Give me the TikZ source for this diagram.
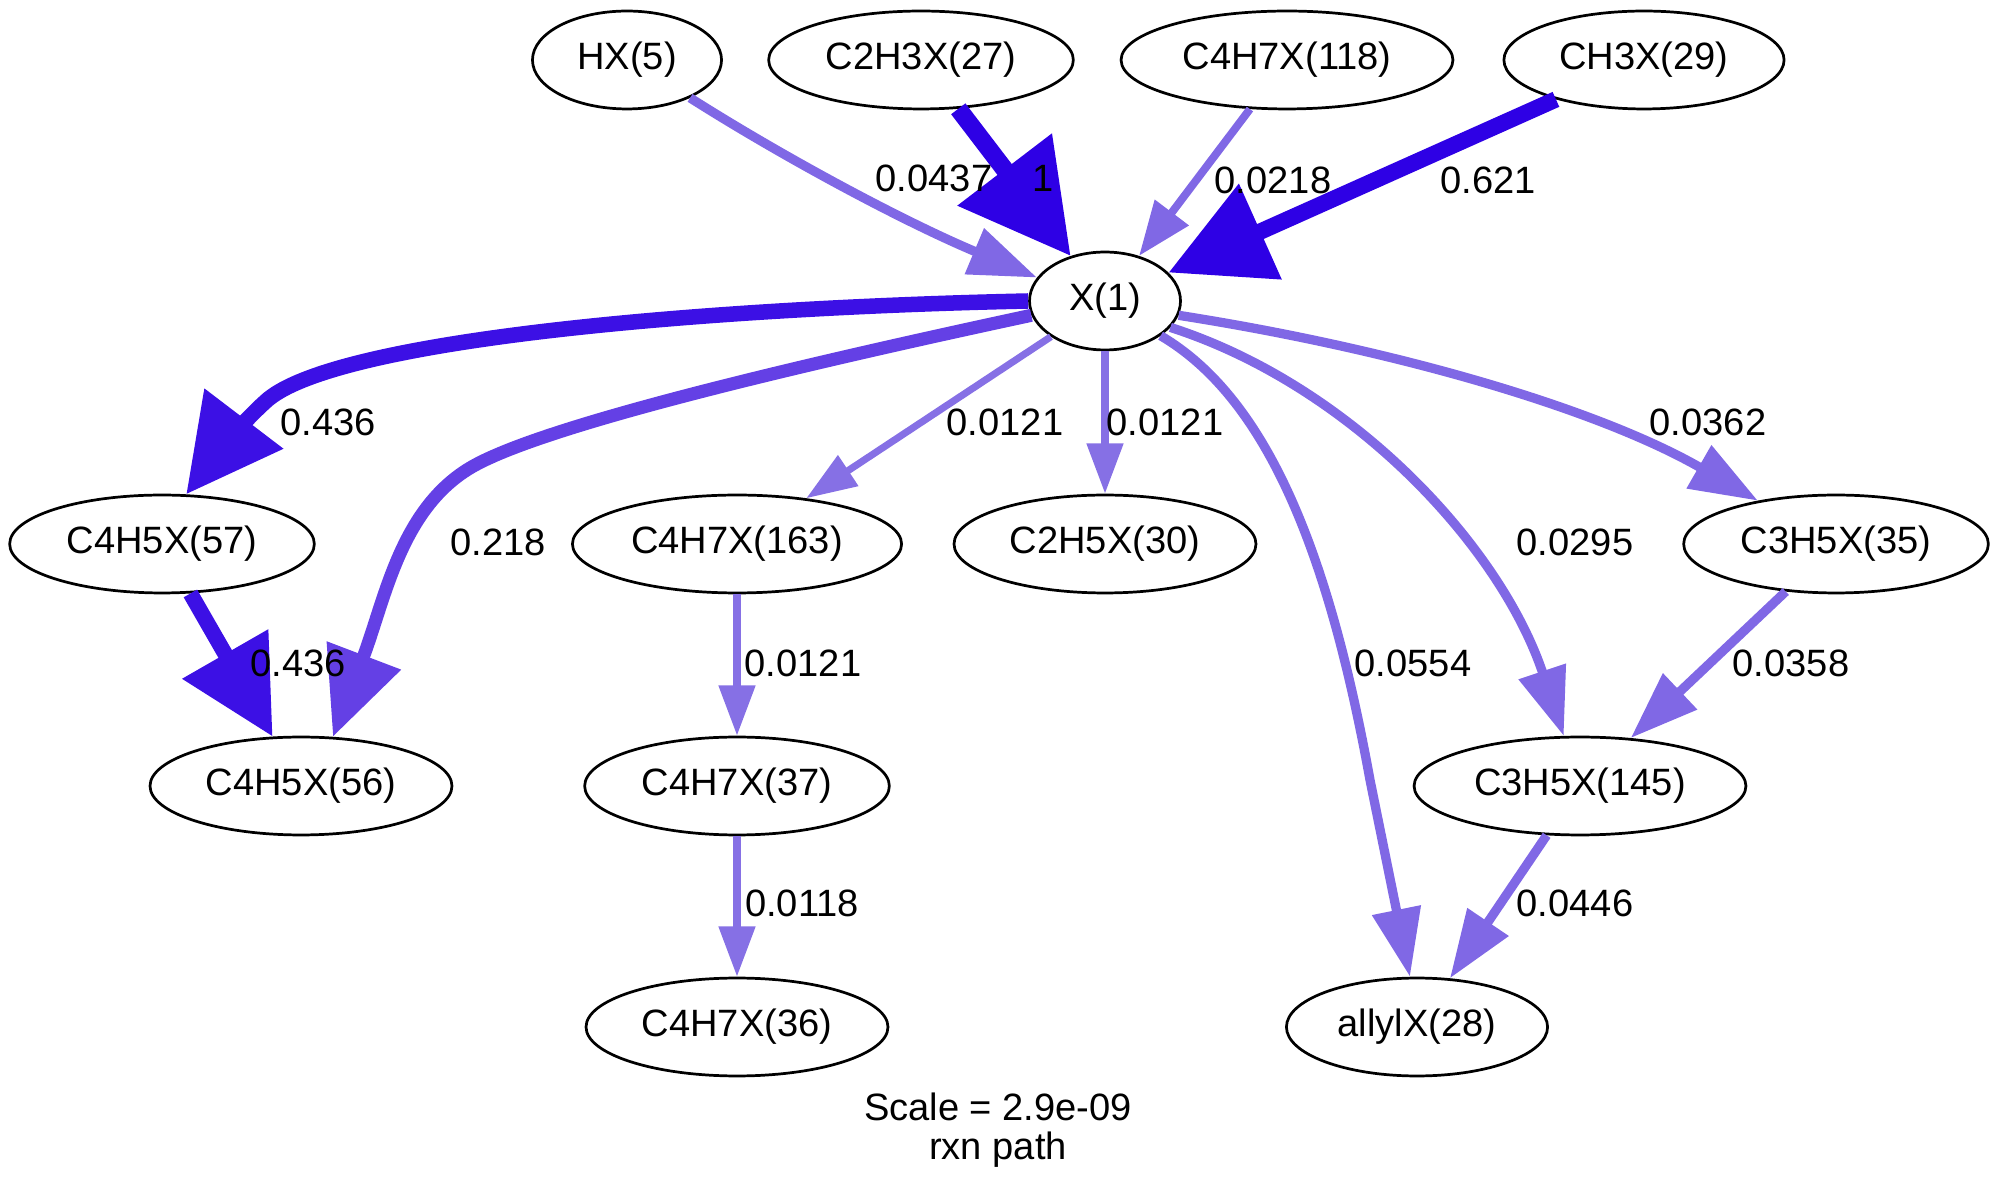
\documentclass[tikz,border=0pt]{standalone}
\usepackage{xcolor}
\usepackage{fontspec}
\setmainfont{Liberation Sans}
\usetikzlibrary{shapes.geometric,arrows.meta}

\definecolor{fluxA}{RGB}{46,0,229}
\definecolor{fluxB}{RGB}{60,16,229}
\definecolor{fluxC}{RGB}{100,64,229}
\definecolor{fluxD}{RGB}{128,104,229}
\definecolor{fluxE}{RGB}{134,112,229}

\begin{document}
\begin{tikzpicture}[x=36.76pt,y=-36.76pt,
  every node/.style={font=\fontsize{14}{16}\selectfont},
  sp/.style={ellipse,draw,line width=1pt,minimum height=36pt,inner sep=0pt},
  fluxtop/.style={draw=fluxA,line width=6.6pt,-{Triangle[length=40pt,width=42pt,fill=fluxA]}},
  fluxbig/.style={draw=fluxA,line width=6pt,-{Triangle[length=37pt,width=37pt,fill=fluxA]}},
  fluxhigh/.style={draw=fluxB,line width=5.7pt,-{Triangle[length=35pt,width=35pt,fill=fluxB]}},
  fluxfair/.style={draw=fluxC,line width=4.8pt,-{Triangle[length=32pt,width=28pt,fill=fluxC]}},
  fluxmid/.style={draw=fluxD,line width=3.4pt,-{Triangle[length=25pt,width=17.5pt,fill=fluxD]}},
  fluxsmall/.style={draw=fluxD,line width=2.9pt,-{Triangle[length=20pt,width=15pt,fill=fluxD]}},
  fluxlow/.style={draw=fluxE,line width=2.6pt,-{Triangle[length=18.5pt,width=13pt,fill=fluxE]}}]
  \useasboundingbox (0,0) rectangle (19.98,11.94);

  % species
  \node[sp,minimum width=69.5pt] (HX5) at (6.27,0.60) {HX(5)};
  \node[sp,minimum width=112pt] (C2H3X27) at (9.21,0.60) {C2H3X(27)};
  \node[sp,minimum width=122pt] (C4H7X118) at (12.87,0.60) {C4H7X(118)};
  \node[sp,minimum width=103pt] (CH3X29) at (16.44,0.60) {CH3X(29)};
  \node[sp,minimum width=55.5pt] (X1) at (11.05,3.01) {X(1)};
  \node[sp,minimum width=112pt] (C4H5X57) at (1.62,5.44) {C4H5X(57)};
  \node[sp,minimum width=121pt] (C4H7X163) at (7.37,5.44) {C4H7X(163)};
  \node[sp,minimum width=111pt] (C2H5X30) at (11.05,5.44) {C2H5X(30)};
  \node[sp,minimum width=112pt] (C3H5X35) at (18.36,5.44) {C3H5X(35)};
  \node[sp,minimum width=111pt] (C4H5X56) at (3.01,7.86) {C4H5X(56)};
  \node[sp,minimum width=112pt] (C4H7X37) at (7.37,7.86) {C4H7X(37)};
  \node[sp,minimum width=122pt] (C3H5X145) at (15.80,7.86) {C3H5X(145)};
  \node[sp,minimum width=111pt] (C4H7X36) at (7.37,10.27) {C4H7X(36)};
  \node[sp,minimum width=96pt] (allylX28) at (14.17,10.27) {allylX(28)};

  % fluxes into X(1)
  \draw[fluxmid] (HX5.-31) .. controls (7.80,1.55) and (9.00,2.20) .. (X1.161);
  \draw[fluxtop] (C2H3X27) -- (X1);
  \draw[fluxsmall] (C4H7X118) -- (X1);
  \draw[fluxbig] (CH3X29) -- (X1);

  % fluxes out of X(1)
  \draw[fluxhigh] (X1.west) .. controls (7.00,3.08) and (3.30,3.40) .. (2.65,4.02)
    .. controls (2.45,4.20) and (2.20,4.50) .. (C4H5X57.64);
  \draw[fluxfair] (X1.191) .. controls (8.00,3.65) and (5.40,4.26) .. (4.70,4.68)
    .. controls (4.00,5.10) and (3.85,6.00) .. (C4H5X56.57);
  \draw[fluxlow] (X1) -- (C4H7X163);
  \draw[fluxlow] (X1) -- (C2H5X30);
  \draw[fluxmid] (X1.-32) .. controls (12.70,4.00) and (13.30,5.60) .. (13.70,7.80) -- (allylX28.98);
  \draw[fluxmid] (X1.-22) .. controls (13.50,3.85) and (15.00,5.45) .. (C3H5X145.108);
  \draw[fluxmid] (X1.-11) .. controls (14.00,3.50) and (16.00,4.10) .. (C3H5X35.151);

  % other fluxes
  \draw[fluxhigh] (C4H5X57) -- (C4H5X56);
  \draw[fluxlow] (C4H7X163) -- (C4H7X37);
  \draw[fluxlow] (C4H7X37) -- (C4H7X36);
  \draw[fluxmid] (C3H5X35) -- (C3H5X145);
  \draw[fluxmid] (C3H5X145) -- (allylX28);

  % labels
  \node (l0437) at (9.34,1.78) {0.0437};
  \node (l1) at (10.43,1.78) {1};
  \node (l0218) at (12.73,1.80) {0.0218};
  \node (l621) at (14.88,1.80) {0.621};
  \node (l436a) at (3.28,4.22) {0.436};
  \node (l0121a) at (10.05,4.22) {0.0121};
  \node (l0121b) at (11.65,4.22) {0.0121};
  \node (l0362) at (17.08,4.22) {0.0362};
  \node (l218) at (4.98,5.42) {0.218};
  \node (l0295) at (15.75,5.42) {0.0295};
  \node (l436b) at (2.98,6.63) {0.436};
  \node (l0121c) at (8.03,6.63) {0.0121};
  \node (l0554) at (14.13,6.63) {0.0554};
  \node (l0358) at (17.91,6.63) {0.0358};
  \node (l0118) at (8.02,9.03) {0.0118};
  \node (l0446) at (15.75,9.03) {0.0446};

  \node (scale) at (9.98,11.07) {Scale = 2.9e-09};
  \node (title) at (9.98,11.50) {rxn path};
\end{tikzpicture}
\end{document}
